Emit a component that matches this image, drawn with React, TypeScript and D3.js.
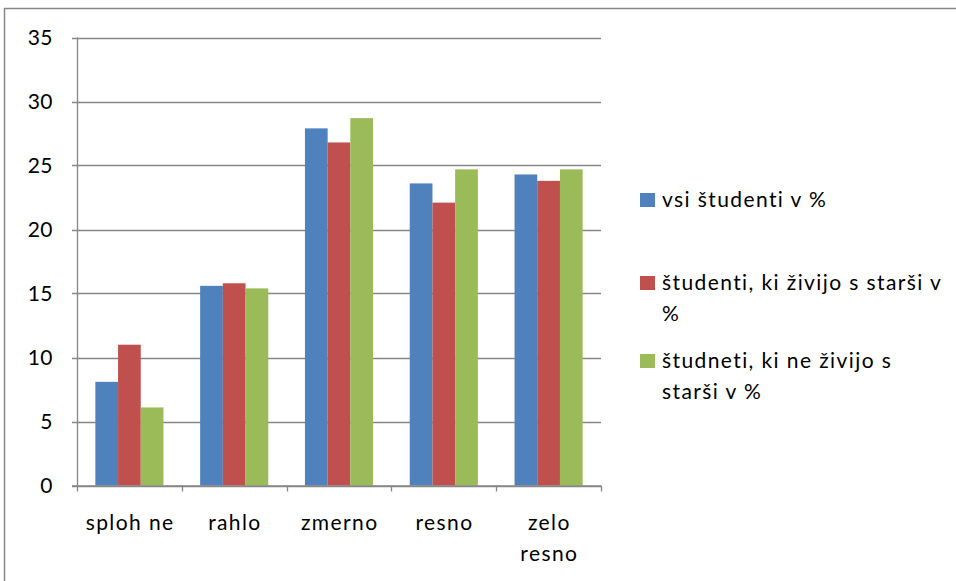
import React from "react";
import * as d3 from "d3";

const categories = ["sploh ne", "rahlo", "zmerno", "resno", "zelo resno"];
const categoryLines = [["sploh ne"], ["rahlo"], ["zmerno"], ["resno"], ["zelo", "resno"]];
const seriesNames = ["vsi študenti v %", "študenti, ki živijo s starši v %", "študneti, ki ne živijo s starši v %"];
const legendLines = [["vsi študenti v %"], ["študenti, ki živijo s starši v", "%"], ["študneti, ki ne živijo s", "starši v %"]];
const allStudents = [8.1, 15.6, 27.9, 23.6, 24.3];
const withParents = [11.0, 15.8, 26.8, 22.1, 23.8];
const withoutParents = [6.1, 15.4, 28.7, 24.7, 24.7];
const yTicks = [0, 5, 10, 15, 20, 25, 30, 35];
const colors = ["#4F81BD", "#C0504D", "#9BBB59"];

const series = [allStudents, withParents, withoutParents];

export default function App() {
  const W = 956, H = 581;
  const left = 77, right = 601, top = 37.5, bottom = 485.5;
  const font = "Lato, sans-serif";
  const fs = 21;
  const ls = 1.4;
  const y = d3.scaleLinear().domain([0, 35]).range([bottom, top]);
  const x0 = d3.scaleBand().domain(categories).range([left, right]).paddingInner(0.35).paddingOuter(0.175);
  const x1 = d3.scaleBand().domain(seriesNames).range([0, x0.bandwidth()]);
  const catBand = d3.scaleBand().domain(categories).range([left, right]);
  const grid = "#868686";
  return (
    <svg width={W} height={H} style={{ position: "absolute", left: 0, top: 0, background: "#fff" }}>
      <rect x={4.5} y={8.5} width={1200} height={1200} fill="#fff" stroke="#868686" strokeWidth={1.5} />
      {yTicks.map((t) => (
        <g key={t}>
          <line x1={left - 5} x2={right} y1={Math.round(y(t)) + 0.5} y2={Math.round(y(t)) + 0.5} stroke={grid} strokeWidth={1.3} />
          <text x={53} y={y(t)} dy="0.35em" textAnchor="end" fontFamily={font} fontSize={fs} letterSpacing={0.5} fill="#000">{t}</text>
        </g>
      ))}
      {series.map((vals, si) =>
        vals.map((v, ci) => (
          <rect key={`${si}-${ci}`} x={(x0(categories[ci]) ?? 0) + (x1(seriesNames[si]) ?? 0)} y={y(v)} width={x1.bandwidth()} height={bottom - y(v)} fill={colors[si]} />
        ))
      )}
      <line x1={left + 0.5} x2={left + 0.5} y1={top} y2={bottom} stroke={grid} strokeWidth={1.3} />
      <line x1={left - 5} x2={right} y1={bottom + 0.5} y2={bottom + 0.5} stroke={grid} strokeWidth={1.3} />
      {[...categories.map((c) => catBand(c) ?? 0), right].map((px, i) => (
        <line key={i} x1={Math.round(px) + 0.5} x2={Math.round(px) + 0.5} y1={bottom} y2={bottom + 6} stroke={grid} strokeWidth={1.3} />
      ))}
      {categories.map((c, i) => {
        const cx = (catBand(c) ?? 0) + catBand.bandwidth() / 2 + ls / 2;
        return (
          <text key={c} x={cx} y={530} textAnchor="middle" fontFamily={font} fontSize={fs} letterSpacing={ls} fill="#000">
            {categoryLines[i].map((l, li) => (
              <tspan key={li} x={cx} dy={li === 0 ? 0 : 31}>{l}</tspan>
            ))}
          </text>
        );
      })}
      {seriesNames.map((s, i) => {
        const ly = [207, 290, 368][i];
        return (
          <g key={s}>
            <rect x={640} y={ly - 14} width={15} height={14} fill={colors[i]} />
            <text x={662} y={ly} fontFamily={font} fontSize={fs} letterSpacing={ls} fill="#000">
              {legendLines[i].map((l, li) => (
                <tspan key={li} x={662} dy={li === 0 ? 0 : 31}>{l}</tspan>
              ))}
            </text>
          </g>
        );
      })}
    </svg>
  );
}
